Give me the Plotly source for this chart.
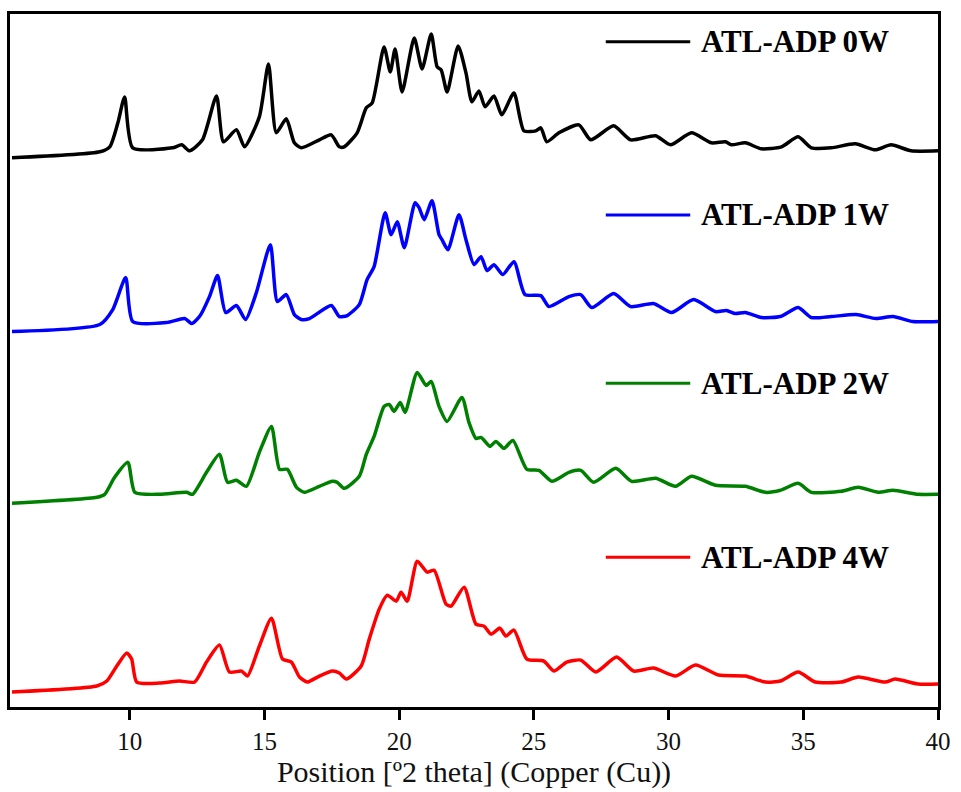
import plotly.graph_objects as go

# 2-theta positions (deg) and intensities (a.u., baseline-relative)
x_0w = [5.63, 8.89, 9.26, 9.56, 9.81, 10.11, 11.59, 11.93, 12.22, 12.70, 13.22, 13.48, 13.96, 14.26, 14.81, 15.15,
        15.44, 15.81, 16.11, 16.37, 17.04, 17.48, 17.78, 17.96, 18.44, 18.78, 19.00, 19.44, 19.67, 19.85, 20.11,
        20.56, 20.85, 21.19, 21.41, 21.56, 21.78, 22.19, 22.48, 22.70, 22.96, 23.19, 23.52, 23.81, 24.26, 24.63,
        25.07, 25.26, 25.48, 25.93, 26.67, 27.11, 27.96, 28.59, 29.52, 30.07, 30.85, 31.59, 32.11, 32.33, 32.85,
        33.44, 34.19, 34.81, 35.30, 36.04, 36.93, 37.67, 38.26, 39.00, 40.00]
i_0w = [10, 16, 21, 45, 71, 20, 20, 23, 17, 28, 72, 26, 38, 21, 51, 104,
        35, 49, 25, 20, 28, 33, 21, 21, 35, 60, 65, 121, 96, 119, 76,
        130, 99, 134, 101, 98, 76, 122, 95, 66, 77, 61, 72, 53, 75, 37,
        37, 40, 26, 35, 43, 28, 42, 28, 32, 23, 35, 25, 26, 23, 25,
        19, 21, 31, 20, 20, 24, 18, 23, 17, 17]

x_1w = [5.63, 8.89, 9.37, 9.85, 10.11, 11.37, 12.04, 12.30, 12.59, 12.96, 13.26, 13.56, 13.96, 14.30, 14.70, 15.22,
        15.48, 15.81, 16.11, 16.37, 16.67, 17.48, 17.78, 18.07, 18.52, 18.81, 19.07, 19.48, 19.70, 19.93, 20.19,
        20.59, 20.74, 20.93, 21.22, 21.48, 21.59, 21.81, 22.22, 22.48, 22.78, 23.04, 23.26, 23.52, 23.85, 24.26,
        24.67, 25.26, 25.56, 26.30, 26.74, 27.15, 27.96, 28.59, 29.44, 30.11, 30.93, 31.74, 32.15, 32.48, 32.85,
        33.44, 34.15, 34.81, 35.30, 36.04, 36.96, 37.70, 38.33, 39.07, 40.00]
i_1w = [6, 13, 28, 60, 16, 15, 19, 14, 21, 41, 62, 25, 32, 18, 45, 93,
        36, 43, 23, 18, 19, 32, 21, 22, 33, 58, 71, 125, 103, 116, 90,
        135, 130, 118, 137, 103, 98, 88, 123, 98, 73, 81, 67, 73, 63, 76,
        43, 42, 31, 41, 43, 30, 44, 31, 34, 25, 38, 26, 27, 24, 25,
        20, 21, 30, 20, 21, 23, 19, 21, 16, 16]

x_2w = [5.63, 8.78, 9.07, 9.44, 9.93, 10.19, 11.11, 12.11, 12.33, 12.85, 13.33, 13.63, 13.96, 14.33, 14.81, 15.26,
        15.56, 15.85, 16.19, 16.48, 17.04, 17.52, 17.70, 17.96, 18.52, 18.78, 19.07, 19.44, 19.63, 19.81, 20.04,
        20.22, 20.67, 21.00, 21.19, 21.48, 21.78, 22.33, 22.59, 22.85, 23.04, 23.37, 23.59, 23.89, 24.22, 24.74,
        25.19, 25.67, 26.30, 26.74, 27.22, 28.04, 28.63, 29.52, 30.26, 30.85, 31.74, 32.85, 33.59, 34.15, 34.81,
        35.30, 36.41, 37.04, 37.78, 38.33, 39.26, 40.00]
i_2w = [4, 10, 13, 30, 45, 15, 13, 15, 13, 35, 53, 25, 27, 21, 55, 81,
        38, 38, 20, 15, 21, 26, 25, 19, 31, 53, 71, 101, 103, 96, 105,
        95, 135, 122, 126, 101, 86, 110, 85, 69, 70, 61, 66, 59, 67, 38,
        37, 26, 35, 37, 25, 39, 26, 29, 21, 31, 22, 21, 15, 17, 24,
        15, 16, 20, 15, 17, 13, 13]

x_4w = [5.63, 8.78, 9.15, 9.52, 9.89, 10.07, 10.26, 11.11, 11.85, 12.41, 12.85, 13.33, 13.70, 14.15, 14.37, 14.81,
        15.26, 15.67, 16.00, 16.30, 16.59, 17.04, 17.52, 17.78, 18.04, 18.59, 18.89, 19.26, 19.56, 19.89, 20.07,
        20.30, 20.67, 21.04, 21.30, 21.74, 21.93, 22.41, 22.85, 23.15, 23.41, 23.74, 23.96, 24.26, 24.74, 25.37,
        25.74, 26.22, 26.74, 27.30, 28.07, 28.70, 29.44, 30.26, 31.00, 31.85, 32.85, 33.59, 34.15, 34.81, 35.44,
        36.41, 37.04, 38.04, 38.41, 39.26, 40.00]
i_4w = [15, 21, 26, 41, 54, 48, 25, 24, 26, 25, 45, 62, 35, 36, 31, 61,
        89, 48, 45, 30, 25, 31, 36, 34, 28, 41, 68, 98, 112, 106, 115,
        106, 146, 135, 137, 103, 101, 120, 83, 81, 73, 79, 71, 77, 48, 46,
        36, 45, 47, 35, 50, 36, 39, 31, 42, 32, 31, 25, 26, 35, 25,
        25, 30, 25, 28, 23, 23]

series_names = ["ATL-ADP 0W", "ATL-ADP 1W", "ATL-ADP 2W", "ATL-ADP 4W"]
series_x = [x_0w, x_1w, x_2w, x_4w]
series_i = [i_0w, i_1w, i_2w, i_4w]
stack_offsets = [540, 370, 200, 0]
colors = ["#000000", "#0000ff", "#008000", "#ff0000"]
legend_y = [0.960, 0.710, 0.467, 0.216]

FONT = "Liberation Serif, Times New Roman, serif"

fig = go.Figure()
for name, xs, ys, off, col in zip(series_names, series_x, series_i, stack_offsets, colors):
    fig.add_trace(go.Scatter(
        x=xs, y=[v + off for v in ys], mode="lines", name=name,
        line=dict(color=col, width=3.5, shape="spline", smoothing=0.6),
        showlegend=False,
    ))

for name, col, ly in zip(series_names, colors, legend_y):
    fig.add_shape(type="line", xref="paper", yref="paper", x0=0.642, x1=0.733, y0=ly, y1=ly,
                  line=dict(color=col, width=3))
    fig.add_annotation(xref="paper", yref="paper", x=0.742, y=ly, xanchor="left", yanchor="middle",
                       text="<b>" + name + "</b>", showarrow=False,
                       font=dict(family=FONT, size=31, color="#000000"))

fig.update_layout(
    width=961, height=792,
    margin=dict(l=10, r=21, t=14, b=84),
    paper_bgcolor="white", plot_bgcolor="white",
    font=dict(family=FONT, color="#000000"),
)
fig.update_xaxes(
    range=[5.556, 40], tickvals=[10, 15, 20, 25, 30, 35, 40],
    ticks="outside", ticklen=10, tickwidth=3, tickcolor="black",
    showline=True, linecolor="black", linewidth=2.5, mirror=True,
    showgrid=False, zeroline=False,
    tickfont=dict(family=FONT, size=25, color="#111111"),
    title=dict(text="Position [º2 theta] (Copper (Cu))", font=dict(family=FONT, size=30, color="#111111"),
               standoff=6),
)
fig.update_yaxes(
    range=[0, 694], showticklabels=False, ticks="",
    showline=True, linecolor="black", linewidth=2.5, mirror=True,
    showgrid=False, zeroline=False,
)

fig.write_html("out.html")
